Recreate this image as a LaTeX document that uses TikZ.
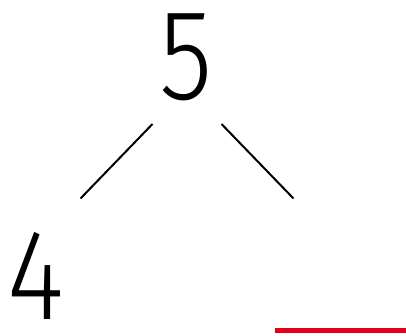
\documentclass[tikz,border=0pt]{standalone}
\usepackage{fontspec}
\setmainfont{Fira Sans Light}
\definecolor{accentred}{HTML}{E2001A}
\tikzset{
  digit/.style={inner sep=0pt, font=\fontsize{129}{129}\selectfont},
  edge/.style={line width=2pt, black},
  mark/.style={}
}
\begin{document}
\begin{tikzpicture}[x=1pt,y=-1pt]
\useasboundingbox[fill=white] (0,0) rectangle (406,336);
\node[digit] (five) at (186,57.5) {\scalebox{0.85}[1]{5}};
\node[digit] (four) at (36,275.5) {\scalebox{0.85}[1]{4}};
\coordinate (l1) at (152.5,124);
\coordinate (l2) at (80.5,198.5);
\coordinate (r1) at (221.5,124);
\coordinate (r2) at (293.5,198.5);
\coordinate (red1) at (275,330.5);
\coordinate (red2) at (406,330.5);
\draw[edge] (l1) -- (l2);
\draw[edge] (r1) -- (r2);
\draw[accentred, line width=5pt] (red1) -- (red2);
\end{tikzpicture}
\end{document}
